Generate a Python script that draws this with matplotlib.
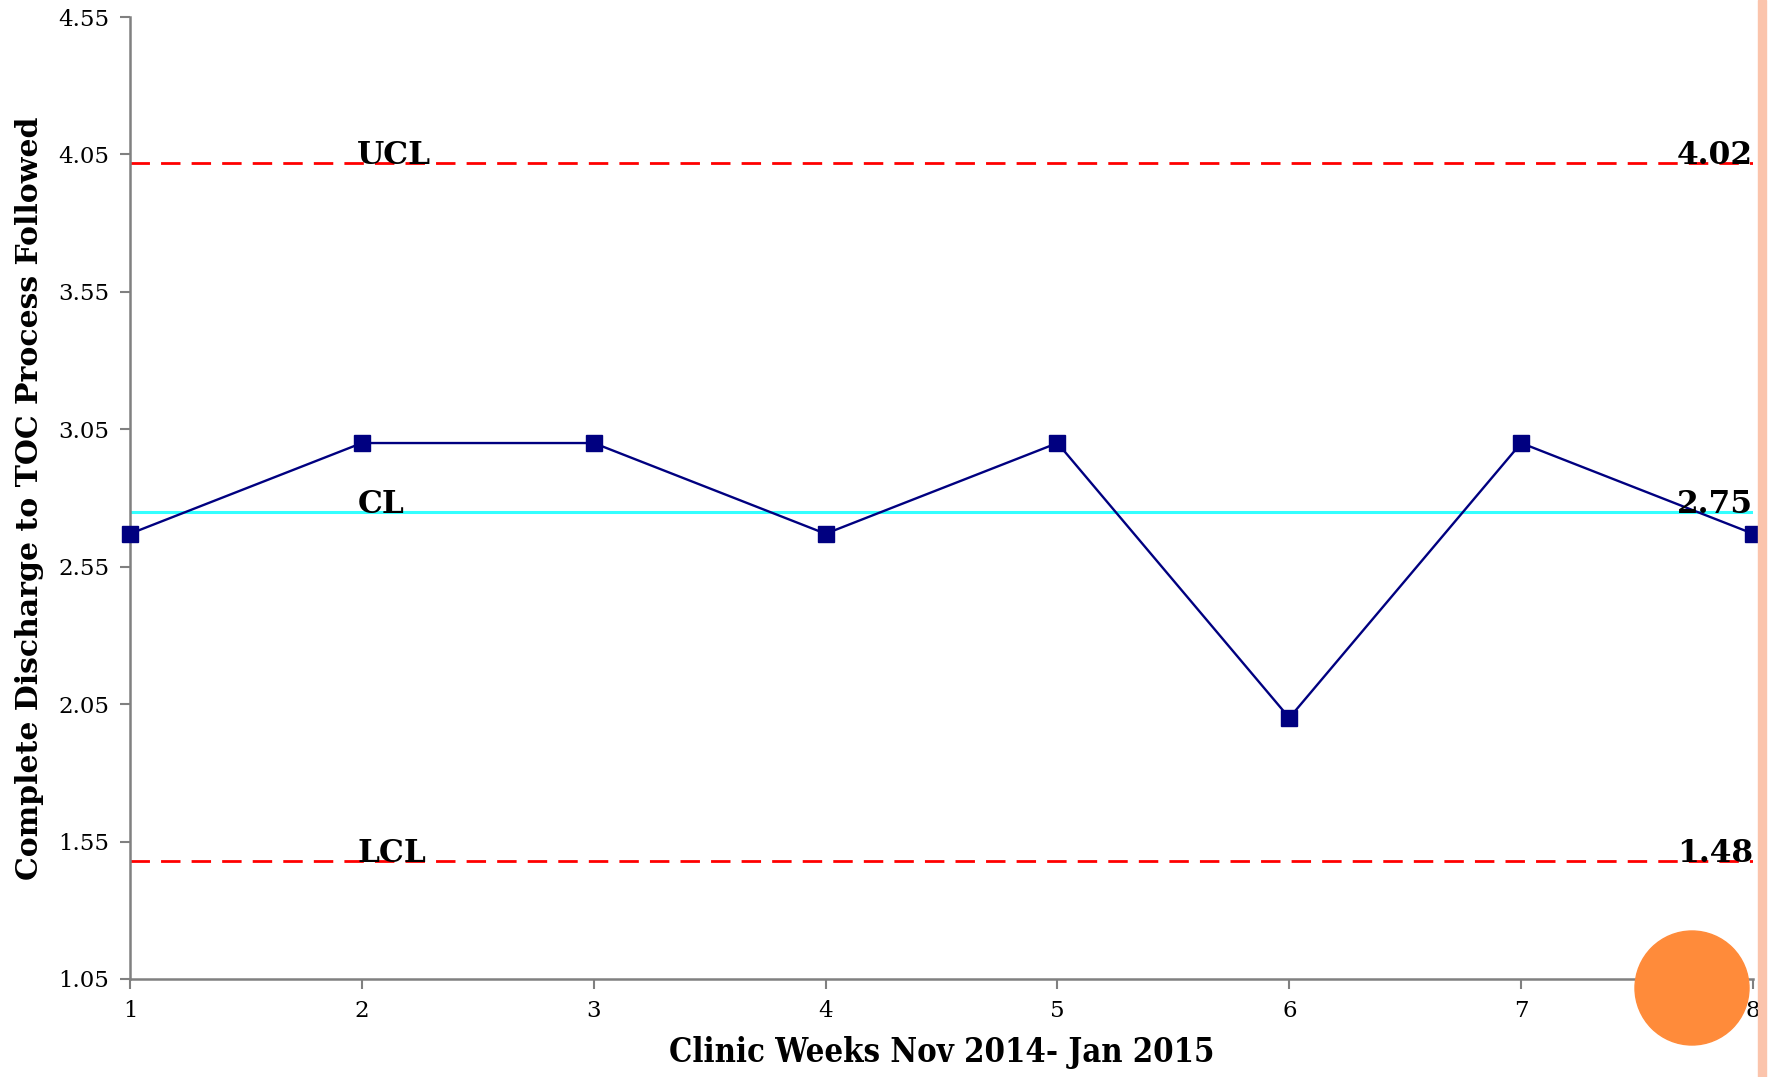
import numpy as np
import matplotlib
matplotlib.use("Agg")
import matplotlib.pyplot as plt
from matplotlib.patches import Ellipse, Rectangle

# ---------- datos ----------
weeks = [1, 2, 3, 4, 5, 6, 7, 8]
values = [2.67, 3.0, 3.0, 2.67, 3.0, 2.0, 3.0, 2.67]
ucl = 4.02
cl = 2.75
lcl = 1.48
y_ticks = [1.05, 1.55, 2.05, 2.55, 3.05, 3.55, 4.05, 4.55]

plt.rcParams['font.family'] = ['DejaVu Serif']

W, H = 1779, 1077
fig = plt.figure(figsize=(W / 100, H / 100), dpi=100)
ax = fig.add_axes([0.0731, 0.0910, 0.9123, 0.8932])

# lineas de control
ax.axhline(ucl, color="#FF0000", lw=2, dashes=(7, 4), zorder=2)
ax.axhline(lcl, color="#FF0000", lw=2, dashes=(7, 4), zorder=2)
ax.axhline(cl, color="#33FFFF", lw=2.2, zorder=2)

# serie
ax.plot(weeks, values, color="#000080", lw=1.7, marker="s", markersize=12,
        zorder=3, clip_on=False)

# etiquetas
lab = dict(fontsize=22.5, fontweight="bold", color="black", va="baseline")
ax.text(1.98, ucl - 0.005, "UCL", ha="left", **lab)
ax.text(1.98, cl - 0.005, "CL", ha="left", **lab)
ax.text(1.98, lcl - 0.005, "LCL", ha="left", **lab)
ax.text(8, ucl - 0.005, f"{ucl:.2f}", ha="right", **lab)
ax.text(8, cl - 0.005, f"{cl:.2f}", ha="right", **lab)
ax.text(8, lcl - 0.005, f"{lcl:.2f}", ha="right", **lab)

ax.set_xlim(1, 8)
ax.set_ylim(1.05, 4.55)
ax.set_xticks(weeks)
ax.set_yticks(y_ticks)
ax.set_yticklabels([f"{t:.2f}" for t in y_ticks])

for s in ["top", "right"]:
    ax.spines[s].set_visible(False)
for s in ["left", "bottom"]:
    ax.spines[s].set_color("#808080")
    ax.spines[s].set_linewidth(1.8)
ax.tick_params(axis="both", direction="out", length=7, width=1.5,
               color="#808080", labelsize=16.5, pad=8)

ax.set_xlabel("Clinic Weeks Nov 2014- Jan 2015", fontsize=23.5,
              fontweight="bold", fontstretch="condensed", labelpad=10)
ax.set_ylabel("Complete Discharge to TOC Process Followed", fontsize=21.5,
              fontweight="bold", labelpad=10)

# decoracion de la diapositiva
fig.patches.append(Rectangle((1758 / W, 0), 8 / W, 1,
                             transform=fig.transFigure, color="#FBC4AC", zorder=0))
fig.patches.append(Ellipse((1692 / W, 1 - 988 / H), 114 / W, 114 / H,
                           transform=fig.transFigure, color="#FF8B3A", zorder=5))

fig.savefig("out.png", dpi=100)
